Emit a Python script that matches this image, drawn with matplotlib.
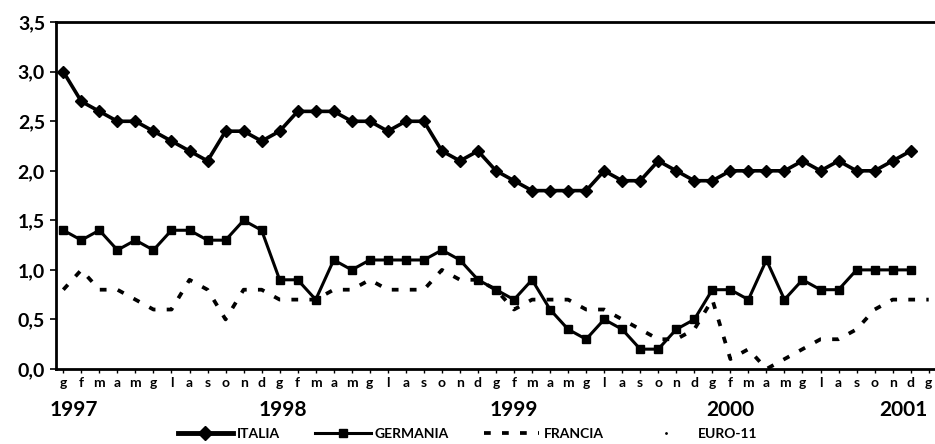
import matplotlib.pyplot as plt
from matplotlib.lines import Line2D

months = ["g", "f", "m", "a", "m", "g", "l", "a", "s", "o", "n", "d"] * 4 + ["g"]
years = ["1997", "1998", "1999", "2000", "2001"]
year_pos = [0.6, 12.2, 25.0, 37.0, 46.6]

italia = [3.0, 2.7, 2.6, 2.5, 2.5, 2.4, 2.3, 2.2, 2.1, 2.4, 2.4, 2.3,
          2.4, 2.6, 2.6, 2.6, 2.5, 2.5, 2.4, 2.5, 2.5, 2.2, 2.1, 2.2,
          2.0, 1.9, 1.8, 1.8, 1.8, 1.8, 2.0, 1.9, 1.9, 2.1, 2.0, 1.9,
          1.9, 2.0, 2.0, 2.0, 2.0, 2.1, 2.0, 2.1, 2.0, 2.0, 2.1, 2.2]
germania = [1.4, 1.3, 1.4, 1.2, 1.3, 1.2, 1.4, 1.4, 1.3, 1.3, 1.5, 1.4,
            0.9, 0.9, 0.7, 1.1, 1.0, 1.1, 1.1, 1.1, 1.1, 1.2, 1.1, 0.9,
            0.8, 0.7, 0.9, 0.6, 0.4, 0.3, 0.5, 0.4, 0.2, 0.2, 0.4, 0.5,
            0.8, 0.8, 0.7, 1.1, 0.7, 0.9, 0.8, 0.8, 1.0, 1.0, 1.0, 1.0]
francia = [0.8, 1.0, 0.8, 0.8, 0.7, 0.6, 0.6, 0.9, 0.8, 0.5, 0.8, 0.8,
           0.7, 0.7, 0.7, 0.8, 0.8, 0.9, 0.8, 0.8, 0.8, 1.0, 0.9, 0.9,
           0.8, 0.6, 0.7, 0.7, 0.7, 0.6, 0.6, 0.5, 0.4, 0.3, 0.3, 0.4,
           0.7, 0.1, 0.2, 0.0, 0.1, 0.2, 0.3, 0.3, 0.4, 0.6, 0.7, 0.7, 0.7]

yticks = [0.0, 0.5, 1.0, 1.5, 2.0, 2.5, 3.0, 3.5]
ytick_labels = ["0,0", "0,5", "1,0", "1,5", "2,0", "2,5", "3,0", "3,5"]

plt.rcParams['font.family'] = ['Lato', 'DejaVu Sans']
plt.rcParams['font.weight'] = 'bold'

fig = plt.figure(figsize=(9.35, 4.44), dpi=100)
ax = fig.add_axes([0.06, 0.169, 0.94, 0.781])

ax.plot(range(len(italia)), italia, color='black', lw=2.6, marker='D', ms=6,
        label='ITALIA')
ax.plot(range(len(germania)), germania, color='black', lw=2.2, marker='s', ms=5.5,
        label='GERMANIA')
ax.plot(range(len(francia)), francia, color='black', lw=2.7, ls=(0, (1.8, 3)),
        label='FRANCIA')

ax.set_xlim(-0.4, 48.35)
ax.set_ylim(0, 3.5)
ax.set_yticks(yticks)
ax.set_yticklabels(ytick_labels, fontsize=14, fontweight='bold')
ax.set_xticks(range(len(months)))
ax.set_xticklabels(months, fontsize=10, fontweight='bold')
ax.tick_params(axis='x', length=3, width=1, pad=3)
ax.tick_params(axis='y', length=4, width=1.2, pad=4)

for s in ['left', 'top', 'bottom']:
    ax.spines[s].set_linewidth(2)
ax.spines['right'].set_visible(False)

for yr, xp in zip(years, year_pos):
    ax.text(xp, -0.09, yr, transform=ax.get_xaxis_transform(), ha='center',
            va='top', fontsize=15, fontweight='bold')

handles = [
    Line2D([], [], color='black', lw=3.5, marker='D', ms=7),
    Line2D([], [], color='black', lw=2.2, marker='s', ms=5.5),
    Line2D([], [], color='black', lw=2.7, ls=(0, (1.8, 3))),
    Line2D([], [], color='black', lw=0, marker='.', ms=2),
]
fig.legend(handles, ['ITALIA', 'GERMANIA', 'FRANCIA', 'EURO-11'], loc='center',
           bbox_to_anchor=(0.5, 0.022), ncol=4, frameon=False, handlelength=4,
           columnspacing=2.5, handletextpad=0.3,
           prop={'size': 10, 'weight': 'bold'})

fig.savefig('out.png', dpi=100)
